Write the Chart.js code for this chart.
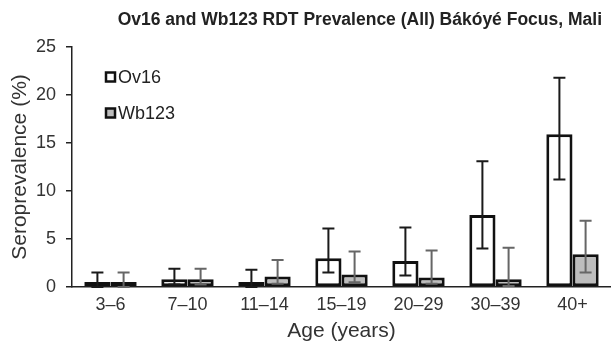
<!DOCTYPE html>
<html>
<head>
<meta charset="utf-8">
<script src="https://cdn.jsdelivr.net/npm/chart.js@4"></script>
<style>
  body { margin: 0; background: #fff; }
  #wrap { width: 611px; height: 352px; position: relative; }
</style>
</head>
<body>
<div id="wrap"><canvas id="prevChart"></canvas></div>
<script>
const ageGroups = ['3–6', '7–10', '11–14', '15–19', '20–29', '30–39', '40+'];

const ov16 = [0.1, 0.8, 0.1, 3.0, 2.7, 7.5, 15.9];
const ov16Low = [0, 0.25, 0, 1.5, 1.2, 4.0, 11.2];
const ov16High = [1.5, 1.9, 1.8, 6.1, 6.2, 13.1, 21.8];

const wb123 = [0.1, 0.8, 1.1, 1.3, 1.0, 0.8, 3.4];
const wb123Low = [0, 0.25, 0.35, 0.5, 0.35, 0.1, 1.5];
const wb123High = [1.5, 1.9, 2.8, 3.7, 3.8, 4.1, 6.9];

const yTicks = [0, 5, 10, 15, 20, 25];

const chartTitle = 'Ov16 and Wb123 RDT Prevalence (All) Bákóyé Focus, Mali';
const fontFam = '"Liberation Sans", Arial, sans-serif';

// barras de erro desenhadas pelas escalas do próprio chart
const errorBars = {
    id: 'errorBars',
    afterDatasetsDraw(chart) {
        const ctx = chart.ctx;
        const y = chart.scales.y;
        chart.data.datasets.forEach((ds, i) => {
            const meta = chart.getDatasetMeta(i);
            ctx.save();
            ctx.strokeStyle = ds.errColor;
            ctx.lineWidth = 2;
            meta.data.forEach((bar, j) => {
                const x = bar.x;
                const yHi = y.getPixelForValue(ds.errHigh[j]);
                const yLo = y.getPixelForValue(ds.errLow[j]);
                ctx.beginPath();
                ctx.moveTo(x, yHi); ctx.lineTo(x, yLo);
                ctx.moveTo(x - 6, yHi); ctx.lineTo(x + 6, yHi);
                ctx.moveTo(x - 6, yLo); ctx.lineTo(x + 6, yLo);
                ctx.stroke();
            });
            ctx.restore();
        });
    }
};

// legenda dentro da área do gráfico + título
const extras = {
    id: 'extras',
    afterDraw(chart) {
        const ctx = chart.ctx;
        const area = chart.chartArea;
        const offsets = [30, 66];
        ctx.save();
        chart.data.datasets.forEach((ds, i) => {
            const bx = area.left + 34;
            const by = area.top + offsets[i];
            ctx.fillStyle = ds.backgroundColor;
            ctx.fillRect(bx, by - 4.5, 9, 9);
            ctx.strokeStyle = '#111';
            ctx.lineWidth = 2.5;
            ctx.strokeRect(bx, by - 4.5, 9, 9);
            ctx.fillStyle = '#222';
            ctx.font = '18px ' + fontFam;
            ctx.textBaseline = 'middle';
            ctx.textAlign = 'left';
            ctx.fillText(ds.label, bx + 12, by + 1);
        });
        ctx.font = 'bold 17.5px ' + fontFam;
        ctx.fillStyle = '#222';
        ctx.textAlign = 'right';
        ctx.textBaseline = 'middle';
        ctx.fillText(chartTitle, area.right - 9, 20);
        ctx.restore();
    }
};

const ctx = document.getElementById('prevChart').getContext('2d');
new Chart(ctx, {
    type: 'bar',
    data: {
        labels: ageGroups,
        datasets: [{
            label: 'Ov16',
            data: ov16,
            errLow: ov16Low,
            errHigh: ov16High,
            errColor: '#1a1a1a',
            backgroundColor: '#ffffff',
            borderColor: '#111',
            borderWidth: 3,
            borderSkipped: false,
            minBarLength: 5
        }, {
            label: 'Wb123',
            data: wb123,
            errLow: wb123Low,
            errHigh: wb123High,
            errColor: '#666',
            backgroundColor: '#bdbdbd',
            borderColor: '#111',
            borderWidth: 3,
            borderSkipped: false,
            minBarLength: 5
        }]
    },
    options: {
        responsive: true,
        maintainAspectRatio: false,
        animation: false,
        layout: { padding: { left: 6, right: 0, top: 47, bottom: 0 } },
        datasets: { bar: { barPercentage: 1, categoryPercentage: 0.68 } },
        plugins: {
            legend: { display: false },
            tooltip: { enabled: false }
        },
        scales: {
            x: {
                grid: { display: false, drawTicks: false, tickLength: 0 },
                border: { display: true, color: '#222', width: 1.5 },
                ticks: { color: '#333', font: { family: fontFam, size: 18 }, padding: 7 },
                title: {
                    display: true,
                    text: 'Age (years)',
                    color: '#333',
                    font: { family: fontFam, size: 21 },
                    padding: { top: 4, bottom: 8 }
                },
                afterFit: s => { s.height = 65; }
            },
            y: {
                min: 0,
                max: 25,
                grid: { drawOnChartArea: false, drawTicks: true, tickLength: 6, color: '#222', lineWidth: 1.5 },
                border: { display: true, color: '#222', width: 1.5 },
                ticks: {
                    stepSize: 2.5,
                    color: '#333',
                    font: { family: fontFam, size: 18 },
                    padding: 10,
                    callback: v => yTicks.includes(v) ? v : ''
                },
                title: {
                    display: true,
                    text: 'Seroprevalence (%)',
                    color: '#333',
                    font: { family: fontFam, size: 21 },
                    padding: { top: 2, bottom: 3 }
                },
                afterFit: s => { s.width = 66; }
            }
        }
    },
    plugins: [errorBars, extras]
});
</script>
</body>
</html>
